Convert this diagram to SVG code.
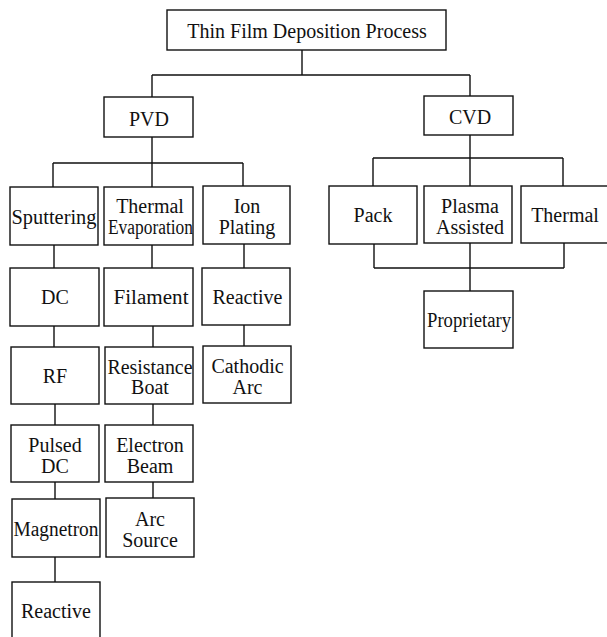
<svg xmlns="http://www.w3.org/2000/svg" width="607" height="637" viewBox="0 0 607 637">
<style>
.box{fill:#fff;stroke:#111;stroke-width:1.4}
.ln{fill:none;stroke:#111;stroke-width:1.4}
text{font-family:"Liberation Serif","Times New Roman",serif;font-size:20px;fill:#111;text-anchor:middle}
</style>
<rect width="607" height="637" fill="#fff"/>
<g id="connectors">
<path class="ln" d="M302 50V75M152 75H470M152 75V97M470 75V96"/>
<path class="ln" d="M152 137V163M53 163H243M53 163V187M152 163V187M243 163V186"/>
<path class="ln" d="M54 245V268M54 326V347M55 404V425M55 482V499M55 557V582"/>
<path class="ln" d="M152 245V268M153 326V347M153 404V425M153 482V498"/>
<path class="ln" d="M244 244V268M244 325V346"/>
<path class="ln" d="M470 135V158M373 158H563M373 158V186M470 158V186M563 158V186"/>
<path class="ln" d="M374 244V268M564 243V268M374 268H564M470 243V291"/>
</g>
<g id="root"><rect class="box" x="167" y="10" width="279" height="40"/><text x="307" y="37.5">Thin Film Deposition Process</text></g>
<g id="pvd"><rect class="box" x="104" y="97" width="89" height="40"/><text x="149" y="125.5">PVD</text></g>
<g id="cvd"><rect class="box" x="424" y="96" width="89" height="39"/><text x="470" y="124">CVD</text></g>
<g id="sputtering"><rect class="box" x="10" y="187" width="88" height="58"/><text x="54" y="223.5" textLength="85" lengthAdjust="spacingAndGlyphs">Sputtering</text></g>
<g id="thermal-evap"><rect class="box" x="104" y="187" width="89" height="58"/><text x="150" y="212.5">Thermal</text><text x="150.5" y="233.5" textLength="85" lengthAdjust="spacingAndGlyphs">Evaporation</text></g>
<g id="ion-plating"><rect class="box" x="203" y="186" width="87" height="58"/><text x="247" y="212.5">Ion</text><text x="247" y="234">Plating</text></g>
<g id="dc"><rect class="box" x="10" y="268" width="89" height="58"/><text x="55" y="304">DC</text></g>
<g id="filament"><rect class="box" x="104" y="268" width="89" height="58"/><text x="151" y="304" textLength="75" lengthAdjust="spacingAndGlyphs">Filament</text></g>
<g id="ion-reactive"><rect class="box" x="202" y="268" width="88" height="57"/><text x="247.5" y="304">Reactive</text></g>
<g id="rf"><rect class="box" x="11" y="347" width="88" height="57"/><text x="55" y="383">RF</text></g>
<g id="resistance-boat"><rect class="box" x="105" y="347" width="88" height="57"/><text x="150" y="373.5" textLength="85" lengthAdjust="spacingAndGlyphs">Resistance</text><text x="150" y="394">Boat</text></g>
<g id="cathodic-arc"><rect class="box" x="203" y="346" width="88" height="57"/><text x="247.5" y="372.5">Cathodic</text><text x="247.5" y="393.5">Arc</text></g>
<g id="pulsed-dc"><rect class="box" x="11" y="425" width="88" height="57"/><text x="55" y="451.5">Pulsed</text><text x="55" y="473">DC</text></g>
<g id="electron-beam"><rect class="box" x="105" y="425" width="88" height="57"/><text x="150" y="451.5">Electron</text><text x="150" y="473">Beam</text></g>
<g id="magnetron"><rect class="box" x="12" y="499" width="88" height="58"/><text x="56" y="535.5" textLength="85" lengthAdjust="spacingAndGlyphs">Magnetron</text></g>
<g id="arc-source"><rect class="box" x="106" y="498" width="88" height="59"/><text x="150" y="526">Arc</text><text x="150" y="547">Source</text></g>
<g id="sputter-reactive"><rect class="box" x="12" y="582" width="88" height="60"/><text x="56" y="618">Reactive</text></g>
<g id="pack"><rect class="box" x="329" y="186" width="88" height="58"/><text x="373" y="222">Pack</text></g>
<g id="plasma-assisted"><rect class="box" x="424" y="186" width="88" height="57"/><text x="470" y="212.5">Plasma</text><text x="470" y="233.5">Assisted</text></g>
<g id="cvd-thermal"><rect class="box" x="521" y="186" width="90" height="57"/><text x="565" y="222">Thermal</text></g>
<g id="proprietary"><rect class="box" x="424" y="291" width="89" height="57"/><text x="469" y="327" textLength="84" lengthAdjust="spacingAndGlyphs">Proprietary</text></g>
</svg>
